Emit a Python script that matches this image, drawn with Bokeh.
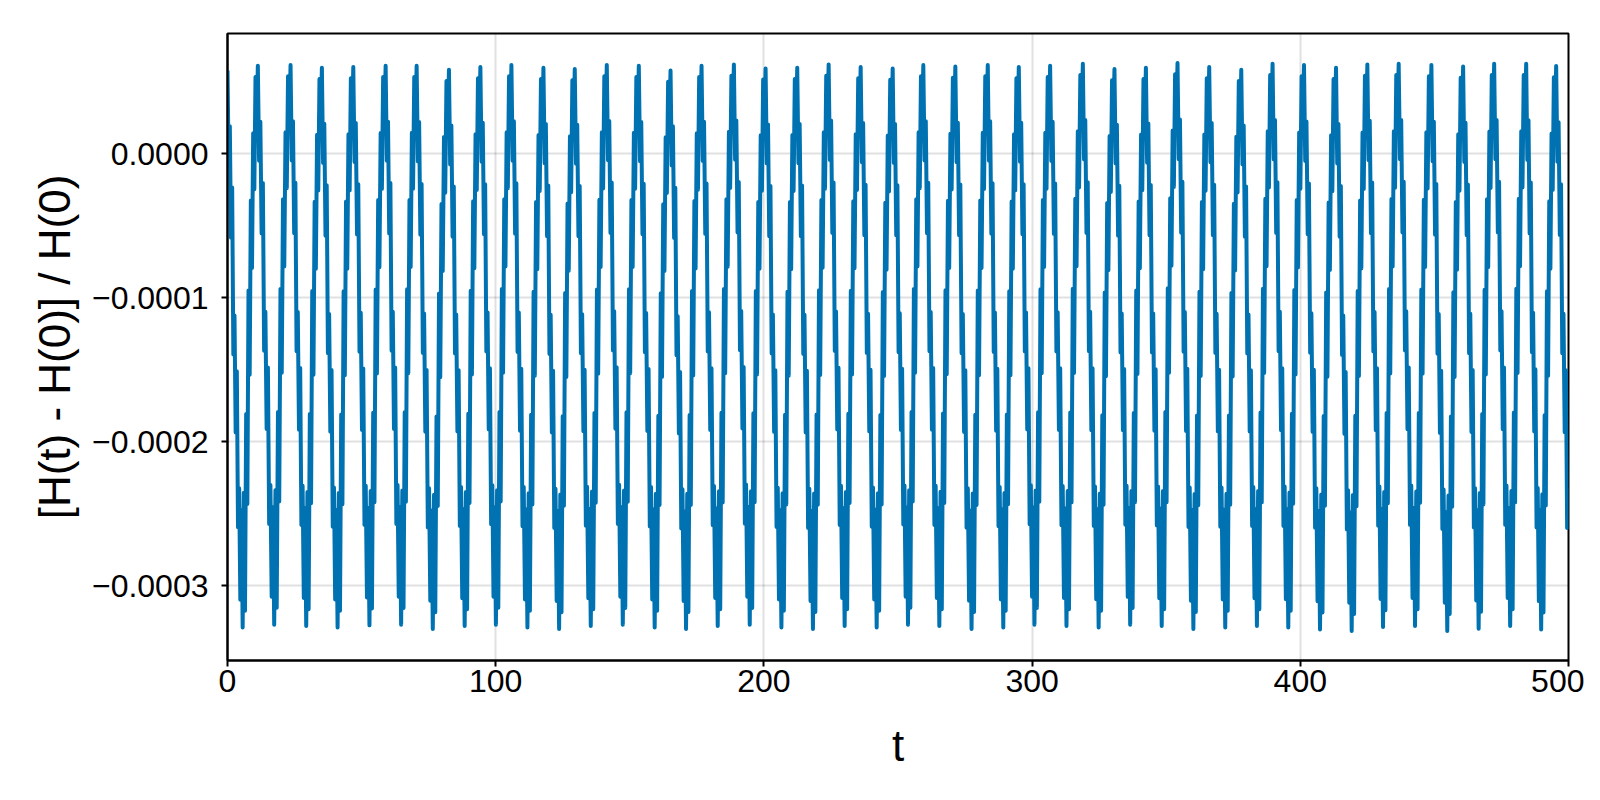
from bokeh.plotting import figure
from bokeh.models import Range1d, FixedTicker
from bokeh.embed import file_html
from bokeh.resources import INLINE

# ---- data (values in units of 1e-4) ----
start_t = 0.0
start_v = 0.578

peak_t = [11.31, 23.51, 35.19, 46.90, 58.96, 70.52, 82.57, 94.29, 105.86, 117.80,
          129.48, 141.42, 153.36, 165.19, 176.75, 188.81, 200.63, 212.43, 224.14, 236.08,
          248.02, 259.44, 271.38, 283.47, 295.04, 306.72, 318.92, 330.71, 342.43, 354.22,
          366.04, 377.99, 389.66, 401.38, 413.32, 425.00, 436.68, 448.88, 460.71, 472.28,
          484.22, 495.40]

peak_v = [0.611, 0.616, 0.597, 0.602, 0.611, 0.611, 0.583, 0.602, 0.616, 0.597,
          0.588, 0.616, 0.611, 0.578, 0.611, 0.620, 0.592, 0.597, 0.620, 0.602,
          0.592, 0.616, 0.606, 0.616, 0.602, 0.611, 0.625, 0.588, 0.597, 0.630,
          0.602, 0.583, 0.625, 0.616, 0.597, 0.620, 0.625, 0.616, 0.606, 0.625,
          0.625, 0.610]

# trough depth of the cycle that ends at each peak
trough_v = [-3.290, -3.270, -3.280, -3.290, -3.275, -3.270, -3.300, -3.280, -3.270, -3.290,
            -3.300, -3.280, -3.270, -3.290, -3.300, -3.280, -3.270, -3.290, -3.300, -3.280,
            -3.290, -3.270, -3.280, -3.300, -3.290, -3.270, -3.280, -3.290, -3.270, -3.280,
            -3.300, -3.290, -3.280, -3.290, -3.303, -3.314, -3.287, -3.280, -3.314, -3.298,
            -3.280, -3.303]

# shape of one cycle (fraction of the peak-to-trough depth), read from a zoomed cycle
cycle_shape = [0.00, 0.17, 0.10, 0.30, 0.21, 0.51, 0.44, 0.65, 0.54, 0.82,
               0.75, 0.95, 0.79, 1.00, 0.76, 0.97, 0.62, 0.78, 0.40, 0.55,
               0.24, 0.36, 0.12, 0.22, 0.02, 0.10]

last_period = 11.82
t_end = 500.0
unit = 1e-4

x_ticks = [0, 100, 200, 300, 400, 500]
y_ticks = [0.0, -1e-4, -2e-4, -3e-4]
y_tick_labels = ["0.0000", "\u22120.0001", "\u22120.0002", "\u22120.0003"]

# ---- build the polyline from the read values ----
xs, ys = [], []
n = len(cycle_shape)
prev_t, prev_v = start_t, start_v
for pt, pv, tv in zip(peak_t, peak_v, trough_v):
    period = pt - prev_t
    for k, f in enumerate(cycle_shape):
        top = prev_v if k < n // 2 else pv
        xs.append(prev_t + period * k / n)
        ys.append((top - f * (top - tv)) * unit)
    prev_t, prev_v = pt, pv
# final partial cycle after the last peak
for k, f in enumerate(cycle_shape):
    t = prev_t + last_period * k / n
    if t > t_end:
        break
    xs.append(t)
    ys.append((prev_v - f * (prev_v - trough_v[-1])) * unit)

FONT = "Liberation Sans"

p = figure(width=1584, height=784, output_backend="svg", toolbar_location=None,
           x_range=Range1d(0, 500), y_range=Range1d(-3.519e-4, 0.835e-4),
           min_border_left=227, min_border_right=16, min_border_top=33,
           min_border_bottom=124)

p.line(xs, ys, line_color="#0072B2", line_width=4, line_join="round")

p.outline_line_color = "black"
p.outline_line_width = 2
p.outline_line_alpha = 1.0
p.background_fill_color = "white"
p.border_fill_color = "white"

p.xaxis.ticker = FixedTicker(ticks=x_ticks)
p.yaxis.ticker = FixedTicker(ticks=y_ticks)
p.yaxis.major_label_overrides = {t: l for t, l in zip(y_ticks, y_tick_labels)}

for ax in (p.xaxis, p.yaxis):
    ax.axis_line_width = 2
    ax.axis_line_color = "black"
    ax.major_tick_line_width = 2
    ax.major_tick_line_color = "black"
    ax.major_tick_out = 6
    ax.major_tick_in = 0
    ax.minor_tick_line_color = None
    ax.major_label_text_font = FONT
    ax.major_label_text_font_size = "32px"
    ax.major_label_text_color = "black"
    ax.axis_label_text_font = FONT
    ax.axis_label_text_font_size = "44px"
    ax.axis_label_text_font_style = "normal"
    ax.axis_label_text_color = "black"

p.xaxis.axis_label = "t"
p.yaxis.axis_label = "[H(t) - H(0)] / H(0)"
p.xaxis.major_label_standoff = 3
p.yaxis.major_label_standoff = 13
p.xaxis.axis_label_standoff = 26
p.yaxis.axis_label_standoff = 10

p.xgrid.ticker = FixedTicker(ticks=x_ticks)
p.ygrid.ticker = FixedTicker(ticks=y_ticks)
p.grid.grid_line_color = "black"
p.grid.grid_line_alpha = 0.12
p.grid.grid_line_width = 2

open("out.html", "w").write(file_html(p, INLINE))
